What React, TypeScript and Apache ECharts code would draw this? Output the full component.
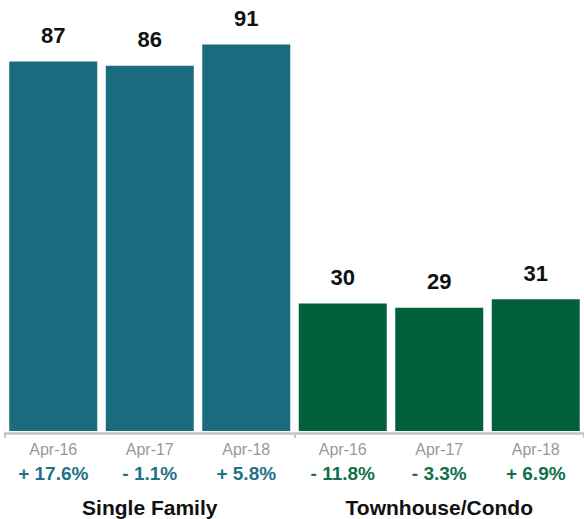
import React, { useEffect, useRef } from "react";
import * as echarts from "echarts";

const categories = ["Apr-16", "Apr-17", "Apr-18", "Apr-16", "Apr-17", "Apr-18"];
const values = [87, 86, 91, 30, 29, 31];
const changes = ["+ 17.6%", "- 1.1%", "+ 5.8%", "- 11.8%", "- 3.3%", "+ 6.9%"];
const groupOf = [0, 0, 0, 1, 1, 1];
const groups = ["Single Family", "Townhouse/Condo"];

const BAR_COLORS = ["#1a6b7e", "#03603d"];
const FONT = "'Liberation Sans', Arial, Helvetica, sans-serif";

export default function App() {
  const ref = useRef<HTMLDivElement>(null);

  useEffect(() => {
    if (!ref.current) return;
    const chart = echarts.init(ref.current, null, { renderer: "svg" });
    chart.setOption({
      animation: false,
      textStyle: { fontFamily: FONT },
      grid: { left: 5, top: 0, width: 582, height: 431, containLabel: false },
      xAxis: [
        {
          type: "category",
          data: categories,
          position: "bottom",
          axisLine: { show: false },
          axisTick: { show: false },
          axisLabel: {
            margin: 8,
            interval: 0,
            formatter: (v: string, i: number) =>
              `{a|${v}}\n{${groupOf[i] === 0 ? "b" : "c"}|${changes[i]}}`,
            rich: {
              a: { fontSize: 16, lineHeight: 20, color: "#999999", fontFamily: FONT },
              b: { fontSize: 19, lineHeight: 29, fontWeight: "bold", color: "#1f7288", fontFamily: FONT },
              c: { fontSize: 19, lineHeight: 29, fontWeight: "bold", color: "#11704a", fontFamily: FONT },
            },
          },
        },
        {
          type: "category",
          data: groups,
          position: "bottom",
          offset: 2,
          axisLine: { show: true, lineStyle: { color: "#c4c4c4", width: 2.5 } },
          axisTick: { show: true, length: 5, lineStyle: { color: "#c4c4c4", width: 2 } },
          axisLabel: {
            margin: 62,
            interval: 0,
            fontSize: 21,
            lineHeight: 24,
            fontWeight: "bold",
            color: "#111111",
            fontFamily: FONT,
          },
        },
      ],
      yAxis: { type: "value", min: 0, max: 101.5, show: false, splitLine: { show: false } },
      series: [
        {
          type: "bar",
          xAxisIndex: 0,
          barWidth: 88,
          data: values.map((v, i) => ({
            value: v,
            itemStyle: { color: BAR_COLORS[groupOf[i]] },
          })),
          label: {
            show: true,
            position: "top",
            distance: 15,
            fontSize: 22,
            lineHeight: 22,
            fontWeight: "bold",
            color: "#111111",
            fontFamily: FONT,
          },
        },
      ],
    });
    return () => chart.dispose();
  }, []);

  return (
    <div
      ref={ref}
      style={{ position: "fixed", left: 0, top: 0, width: 584, height: 519, background: "#ffffff" }}
    />
  );
}
